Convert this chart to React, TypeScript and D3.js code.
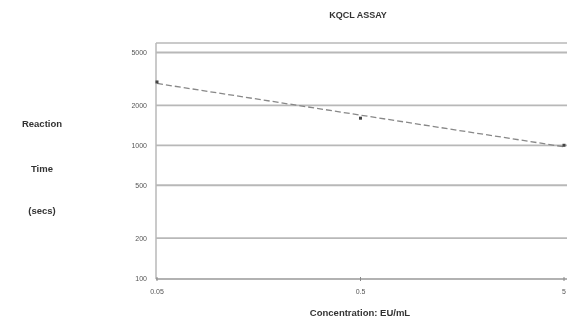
import React from "react";
import * as d3 from "d3";

const concentrations = [0.05, 0.5, 5];
const reactionTimes = [3000, 1600, 1000];
const yTicks = [100, 200, 500, 1000, 2000, 5000];
const xTicks = [0.05, 0.5, 5];
const xTickLabels = ["0.05", "0.5", "5"];

export default function App() {
  const W = 567, H = 327;
  const x = d3.scaleLog().domain([0.05, 5]).range([157, 564]);
  const y = d3.scaleLog().domain([100, 6000]).range([278, 42]);

  // log-log linear regression trend line
  const lx = concentrations.map(Math.log10);
  const ly = reactionTimes.map(Math.log10);
  const mx = d3.mean(lx)!, my = d3.mean(ly)!;
  const slope = d3.sum(lx.map((v, i) => (v - mx) * (ly[i] - my))) / d3.sum(lx.map(v => (v - mx) ** 2));
  const fit = (c: number) => Math.pow(10, my + slope * (Math.log10(c) - mx));
  const trend = d3.line<number>().x(c => x(c)).y(c => y(fit(c)));
  const grid = "#b8b8b8";

  return (
    <svg width={W} height={H} style={{ position: "absolute", left: 0, top: 0, background: "#fff" }}
      fontFamily="Liberation Sans, Arial, sans-serif">
      <defs>
        <filter id="blur"><feGaussianBlur stdDeviation="0.35" /></filter>
      </defs>
      <g filter="url(#blur)">
        <text x={358} y={18} textAnchor="middle" fontSize={9} fontWeight="bold" fill="#333">KQCL ASSAY</text>
        {/* frame */}
        <line x1={156} x2={567} y1={43} y2={43} stroke={grid} strokeWidth={1.5} />
        <line x1={156} x2={156} y1={43} y2={279} stroke={grid} strokeWidth={1.5} />
        <line x1={156} x2={567} y1={279} y2={279} stroke="#999" strokeWidth={1.5} />
        {yTicks.filter(t => t !== 100).map(t => (
          <line key={t} x1={156} x2={567} y1={y(t)} y2={y(t)} stroke={grid} strokeWidth={1.8} />
        ))}
        {yTicks.map(t => (
          <text key={t} x={147} y={y(t) + 2.5} textAnchor="end" fontSize={7} fill="#555">{t}</text>
        ))}
        {xTicks.map((t, i) => (
          <g key={t}>
            <line x1={x(t)} x2={x(t)} y1={277} y2={281} stroke="#888" />
            <text x={x(t)} y={294} textAnchor="middle" fontSize={7} fill="#555">{xTickLabels[i]}</text>
          </g>
        ))}
        <path d={trend(xTicks.length ? [0.05, 5] : [])!} fill="none" stroke="#888" strokeWidth={1.3} strokeDasharray="6,3" />
        {concentrations.map((c, i) => (
          <rect key={c} x={x(c) - 1.5} y={y(reactionTimes[i]) - 1.5} width={3} height={3} fill="#444" />
        ))}
        <text x={360} y={316} textAnchor="middle" fontSize={9.5} fontWeight="bold" fill="#333">Concentration: EU/mL</text>
        <text x={42} y={127} textAnchor="middle" fontSize={9.5} fontWeight="bold" fill="#333">Reaction</text>
        <text x={42} y={172} textAnchor="middle" fontSize={9.5} fontWeight="bold" fill="#333">Time</text>
        <text x={42} y={214} textAnchor="middle" fontSize={9.5} fontWeight="bold" fill="#333">(secs)</text>
      </g>
    </svg>
  );
}
